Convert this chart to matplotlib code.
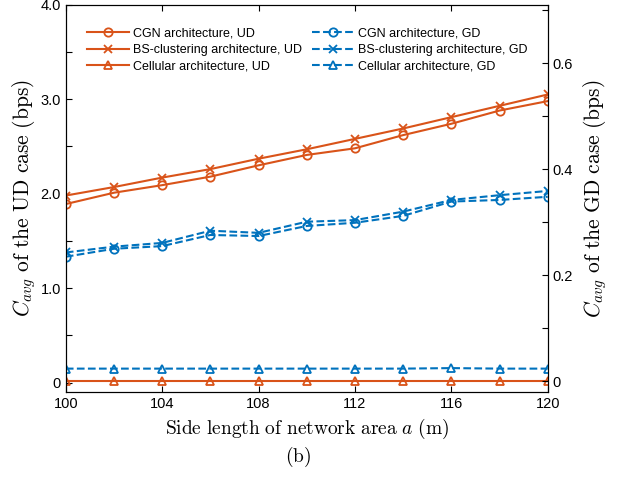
import numpy as np
import matplotlib
matplotlib.use('Agg')
from matplotlib import pyplot as plt

plt.rcParams['font.family'] = ['Liberation Sans', 'DejaVu Sans']
plt.rcParams['mathtext.fontset'] = 'cm'

side = [100, 102, 104, 106, 108, 110, 112, 114, 116, 118, 120]

cgn_ud = [1.89, 2.01, 2.09, 2.18, 2.30, 2.41, 2.48, 2.62, 2.74, 2.88, 2.98]
bs_ud = [1.98, 2.07, 2.17, 2.26, 2.37, 2.47, 2.58, 2.69, 2.81, 2.93, 3.05]
cell_ud = [0.02, 0.02, 0.02, 0.02, 0.02, 0.02, 0.02, 0.02, 0.02, 0.02, 0.02]

cgn_gd = [0.235, 0.250, 0.255, 0.276, 0.274, 0.293, 0.299, 0.312, 0.339, 0.342, 0.348]
bs_gd = [0.243, 0.254, 0.261, 0.284, 0.280, 0.301, 0.304, 0.320, 0.342, 0.351, 0.359]
cell_gd = [0.024, 0.024, 0.024, 0.024, 0.024, 0.024, 0.024, 0.024, 0.025, 0.024, 0.024]

orange = '#D95319'
blue = '#0072BD'

fig = plt.figure(figsize=(6.21, 4.78), dpi=100)
ax = fig.add_axes([0.106, 0.18, 0.776, 0.81])
ax2 = ax.twinx()

mk = dict(markersize=6, markerfacecolor='none', markeredgewidth=1.3, linewidth=1.5)
l1, = ax.plot(side, cgn_ud, '-o', color=orange, label='CGN architecture, UD', **mk)
l2, = ax.plot(side, bs_ud, '-x', color=orange, label='BS-clustering architecture, UD', **mk)
l3, = ax.plot(side, cell_ud, '-^', color=orange, label='Cellular architecture, UD', **mk)
l4, = ax2.plot(side, cgn_gd, '--o', color=blue, label='CGN architecture, GD', **mk)
l5, = ax2.plot(side, bs_gd, '--x', color=blue, label='BS-clustering architecture, GD', **mk)
l6, = ax2.plot(side, cell_gd, '--^', color=blue, label='Cellular architecture, GD', **mk)

ax.set_xlim(100, 120)
ax.set_ylim(-0.1, 4.0)
ax2.set_ylim(-0.02, 0.71)

ax.set_xticks([100, 104, 108, 112, 116, 120])
ax.set_yticks(np.arange(0, 4.01, 0.5))
ax.set_yticklabels(['0', '', '1.0', '', '2.0', '', '3.0', '', '4.0'])
ax2.set_yticks(np.arange(0, 0.71, 0.1))
ax2.set_yticklabels(['0', '', '0.2', '', '0.4', '', '0.6', ''])

ax.tick_params(direction='in', labelsize=10.5, top=True, length=4)
ax2.tick_params(direction='in', labelsize=10.5, length=4)

ax.set_xlabel(r'$\mathrm{Side\ length\ of\ network\ area\ }a\mathrm{\ (m)}$', fontsize=14)
ax.set_ylabel(r'$C_{avg}\mathrm{\ of\ the\ UD\ case\ (bps)}$', fontsize=15.5, labelpad=2)
ax2.set_ylabel(r'$C_{avg}\mathrm{\ of\ the\ GD\ case\ (bps)}$', fontsize=15.5, labelpad=6)

ax.legend(handles=[l1, l2, l3, l4, l5, l6], ncol=2, loc='upper left',
          frameon=False, fontsize=9, handlelength=3.4,
          labelspacing=0.35, columnspacing=0.8, handletextpad=0.3,
          bbox_to_anchor=(0.02, 0.97))

fig.text(0.48, 0.044, r'$\mathrm{(b)}$', fontsize=14, ha='center', va='center')

fig.savefig('out.png', dpi=100)
